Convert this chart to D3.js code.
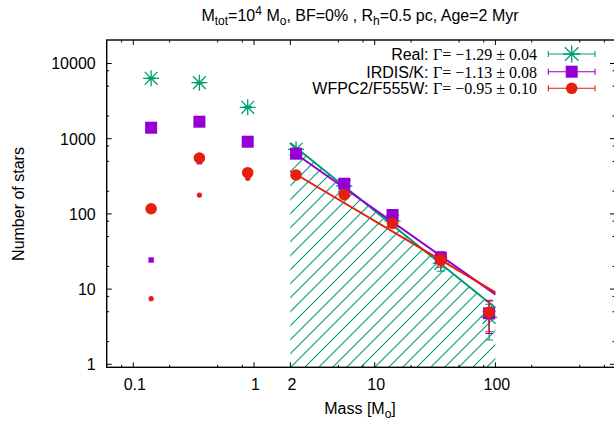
<!DOCTYPE html>
<html><head><meta charset="utf-8">
<script src="https://cdn.jsdelivr.net/npm/d3@7"></script>
<style>body{margin:0;background:#fff}svg{display:block}</style>
</head><body>
<svg id="c" width="614" height="424"></svg>
<script>
// ---- data ----
const masses = [0.1405, 0.353, 0.887, 2.23, 5.60, 14.06, 35.3, 88.7];
const realN = [6360, 5560, 2617, 723, 235, 80, 22, 4.2];
const realErr = [80, 75, 51, 27, 15, 9, 4.7, 2.1];
const irdisN = [1400, 1683, 912, 632, 252, 96.7, 26.2, 4.77];
const irdisErr = [37, 41, 30, 25, 16, 9.8, 5.1, 2.2];
const wfpcN = [117, 554, 353, 329, 180, 75, 24.4, 4.91];
const wfpcErr = [11, 24, 19, 18, 13, 8.7, 4.9, 2.2];
const lowMasses = [0.1405, 0.353, 0.887];
const irdisRawN = [24.4, 494, 320];
const wfpcRawN = [7.45, 178, 297];
const fitRange = [2, 100];
const realFit = [877, 5.64];
const irdisFit = [708, 8.5];
const wfpcFit = [372, 9.04];
const legendLabels = ["Real: ", "IRDIS/K: ", "WFPC2/F555W: "];
const legendGamma = ["\u0393= \u22121.29 \u00b1 0.04", "\u0393= \u22121.13 \u00b1 0.08", "\u0393= \u22120.95 \u00b1 0.10"];
const xMajorTicks = [0.1, 1, 2, 10, 100];
const xMajorLabels = ["0.1", "1", "2", "10", "100"];
const xMinorTicks = [0.08, 0.2, 0.5, 0.8, 5, 8, 20, 50, 80, 200, 500, 800];
const yMajorTicks = [1, 10, 100, 1000, 10000];
const yMajorLabels = ["1", "10", "100", "1000", "10000"];
const yMinorTicks = [2, 5, 8, 20, 50, 80, 200, 500, 800, 2000, 5000, 8000];

// ---- layout ----
const C = {green: "#009e73", purple: "#9400d3", red: "#e51e10"};
const L = 106.7, R = 615, T = 40, B = 367.3;
const FONT = "'Liberation Sans', Arial, Helvetica, sans-serif";
const SERIF = "'Liberation Serif', 'Times New Roman', serif";

const x = d3.scaleLog().domain([1, 100]).range([254, 495.4]);
const y = d3.scaleLog().domain([1, 10000]).range([364.3, 63.5]);

const svg = d3.select("#c");
const defs = svg.append("defs");
const pat = defs.append("pattern").attr("id", "hatch").attr("patternUnits", "userSpaceOnUse")
  .attr("width", 14).attr("height", 14);
pat.append("path").attr("d", "M-3,3 L3,-3 M0,14 L14,0 M11,17 L17,11")
  .attr("stroke", C.green).attr("stroke-width", 1.1).attr("fill", "none");
defs.append("clipPath").attr("id", "clip").append("rect")
  .attr("x", L).attr("y", T).attr("width", R - L).attr("height", B - T);

const plot = svg.append("g").attr("clip-path", "url(#clip)");

// hatched area under real fit
const area = d3.area().x(d => x(d[0])).y0(B).y1(d => y(d[1]));
plot.append("path").datum([[fitRange[0], realFit[0]], [fitRange[1], realFit[1]]])
  .attr("d", area).attr("fill", "url(#hatch)");

// symbol helpers
function star(g, cx, cy, r, color) {
  const d = r * 0.8;
  g.append("path").attr("d",
    `M${cx - r},${cy}L${cx + r},${cy}M${cx},${cy - r}L${cx},${cy + r}` +
    `M${cx - d},${cy - d}L${cx + d},${cy + d}M${cx - d},${cy + d}L${cx + d},${cy - d}`)
    .attr("stroke", color).attr("stroke-width", 1.3).attr("fill", "none");
}
function errbars(g, ms, ns, es, color) {
  ms.forEach((m, i) => {
    const cx = x(m), y1 = y(ns[i] + es[i]), y0 = y(Math.max(ns[i] - es[i], 0.5));
    g.append("path").attr("d",
      `M${cx},${y0}L${cx},${y1}M${cx - 4},${y0}L${cx + 4},${y0}M${cx - 4},${y1}L${cx + 4},${y1}`)
      .attr("stroke", color).attr("stroke-width", 1.1).attr("fill", "none");
  });
}
const line = d3.line().x(d => x(d[0])).y(d => y(d[1]));
function fitLine(g, f, color) {
  g.append("path").datum([[fitRange[0], f[0]], [fitRange[1], f[1]]])
    .attr("d", line).attr("stroke", color).attr("stroke-width", 2).attr("fill", "none");
}

// Real
errbars(plot, masses, realN, realErr, C.green);
masses.forEach((m, i) => star(plot, x(m), y(realN[i]), 8, C.green));
fitLine(plot, realFit, C.green);
// IRDIS
errbars(plot, masses, irdisN, irdisErr, C.purple);
plot.selectAll(".sq").data(masses).enter().append("rect")
  .attr("x", (m) => x(m) - 6).attr("y", (m, i) => y(irdisN[i]) - 6)
  .attr("width", 12).attr("height", 12).attr("fill", C.purple);
plot.selectAll(".sqs").data(lowMasses).enter().append("rect")
  .attr("x", (m) => x(m) - 2.7).attr("y", (m, i) => y(irdisRawN[i]) - 2.7)
  .attr("width", 5.4).attr("height", 5.4).attr("fill", C.purple);
fitLine(plot, irdisFit, C.purple);
// WFPC2
errbars(plot, masses, wfpcN, wfpcErr, C.red);
plot.selectAll(".ci").data(masses).enter().append("circle")
  .attr("cx", (m) => x(m)).attr("cy", (m, i) => y(wfpcN[i])).attr("r", 5.8).attr("fill", C.red);
plot.selectAll(".cis").data(lowMasses).enter().append("circle")
  .attr("cx", (m) => x(m)).attr("cy", (m, i) => y(wfpcRawN[i])).attr("r", 2.6).attr("fill", C.red);
fitLine(plot, wfpcFit, C.red);

// frame & ticks
const ax = svg.append("g").attr("stroke", "#000").attr("fill", "none");
ax.append("rect").attr("x", L).attr("y", T).attr("width", R - L).attr("height", B - T).attr("stroke-width", 1.4);
function xt(v, len) {
  const px = x(v);
  if (px < L || px > R) return;
  ax.append("path").attr("d", `M${px},${B}L${px},${B - len}M${px},${T}L${px},${T + len}`).attr("stroke-width", 1);
}
function yt(v, len) {
  const py = y(v);
  if (py < T || py > B) return;
  ax.append("path").attr("d", `M${L},${py}L${L + len},${py}M${R},${py}L${R - len},${py}`).attr("stroke-width", 1);
}
xMajorTicks.forEach(v => xt(v, 5));
xMinorTicks.forEach(v => xt(v, 2.5));
yMajorTicks.forEach(v => yt(v, 5));
yMinorTicks.forEach(v => yt(v, 2.5));

const tx = svg.append("g").attr("font-family", FONT).attr("font-size", 16).attr("fill", "#000");
xMajorTicks.forEach((v, i) => tx.append("text").attr("x", x(v) + 1.5).attr("y", 390)
  .attr("text-anchor", "middle").text(xMajorLabels[i]));
yMajorTicks.forEach((v, i) => tx.append("text").attr("x", 95.7).attr("y", y(v) + 5.8)
  .attr("text-anchor", "end").text(yMajorLabels[i]));

// axis titles
const xl = tx.append("text").attr("x", 360).attr("y", 414).attr("text-anchor", "middle");
xl.append("tspan").text("Mass [M");
xl.append("tspan").attr("dy", 4).attr("font-size", 12).text("o");
xl.append("tspan").attr("dy", -4).text("]");
tx.append("text").attr("transform", "translate(24,204) rotate(-90)").attr("text-anchor", "middle").text("Number of stars");

// title
const tt = svg.append("text").attr("x", 360).attr("y", 21).attr("text-anchor", "middle")
  .attr("font-family", FONT).attr("font-size", 16);
const parts = [["M", 0], ["tot", 1], ["=10", 0], ["4", -1], [" M", 0], ["o", 1], [", BF=0% , R", 0], ["h", 1], ["=0.5 pc, Age=2 Myr", 0]];
let prev = 0;
parts.forEach(([s, lvl]) => {
  const off = lvl === 1 ? 4 : lvl === -1 ? -6 : 0;
  tt.append("tspan").attr("dy", off - prev).attr("font-size", lvl ? 12 : 16).text(s);
  prev = off;
});

// legend
const legColors = [C.green, C.purple, C.red];
const legY = [54, 71.7, 88.3];
legColors.forEach((col, i) => {
  const t = tx.append("text").attr("x", 537).attr("y", legY[i] + 5.8).attr("text-anchor", "end");
  t.append("tspan").text(legendLabels[i]);
  t.append("tspan").attr("font-family", SERIF).text(legendGamma[i]);
  const cy = legY[i];
  svg.append("path").attr("d", `M548.3,${cy}L595,${cy}M548.3,${cy - 3}L548.3,${cy + 3}M595,${cy - 3}L595,${cy + 3}`)
    .attr("stroke", col).attr("stroke-width", 1.1).attr("fill", "none");
  const g = svg.append("g");
  if (i === 0) star(g, 571.7, cy, 8.5, col);
  if (i === 1) g.append("rect").attr("x", 571.7 - 6).attr("y", cy - 6).attr("width", 12).attr("height", 12).attr("fill", col);
  if (i === 2) g.append("circle").attr("cx", 571.7).attr("cy", cy).attr("r", 5.8).attr("fill", col);
});
</script>
</body></html>
